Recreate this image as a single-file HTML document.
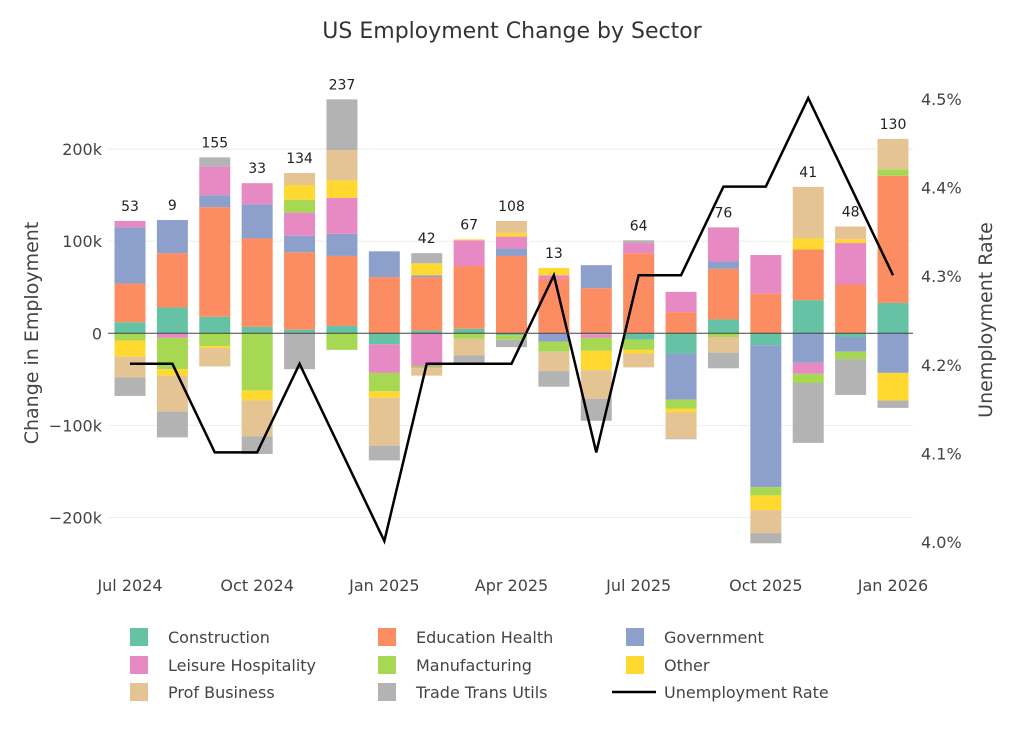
<!DOCTYPE html>
<html><head><meta charset="utf-8">
<style>
html,body{margin:0;padding:0;background:#fff;}
svg{display:block;font-family:"DejaVu Sans","Liberation Sans",sans-serif;}
</style></head>
<body>
<svg id="chart" width="1024" height="732" viewBox="0 0 1024 732">
<text x="512" y="38" text-anchor="middle" font-size="22" fill="#333">US Employment Change by Sector</text>
<g id="grid"></g><g id="bars"></g><g id="labels"></g><g id="line"></g><g id="axes"></g><g id="legend"></g>
</svg>
<script>
const months = ["Jul 2024","Aug 2024","Sep 2024","Oct 2024","Nov 2024","Dec 2024","Jan 2025","Feb 2025","Mar 2025","Apr 2025","May 2025","Jun 2025","Jul 2025","Aug 2025","Sep 2025","Oct 2025","Nov 2025","Dec 2025","Jan 2026"];
const sectorNames = ["Construction","Education Health","Government","Leisure Hospitality","Manufacturing","Other","Prof Business","Trade Trans Utils"];
const construction = [12,28,18,7,4,8,-12,3,5,-2,0,-1,-7,-22,15,-13,36,-4,33];
const educationHealth = [42,59,119,96,84,76,61,58,68,84,59,49,87,23,55,43,55,53,138];
const government = [61,36,13,37,18,24,28,2,0,8,-9,25,0,-50,8,-154,-32,-16,-43];
const leisureHospitality = [7,-5,31,23,25,39,-31,-36,28,13,4,-4,11,22,37,42,-12,45,0];
const manufacturing = [-8,-34,-14,-62,14,-18,-20,-2,-6,-5,-11,-14,-11,-10,-4,-9,-10,-8,7];
const other = [-17,-7,-2,-11,16,19,-7,13,1,4,8,-21,-4,-4,0,-16,12,4,-30];
const profBusiness = [-23,-39,-20,-39,13,33,-52,-8,-18,13,-21,-31,-15,-28,-17,-25,56,14,33];
const tradeTransUtils = [-20,-28,10,-19,-39,55,-16,11,-10,-8,-17,-24,3,-1,-17,-11,-65,-39,-8];
const totalLabels = [53,9,155,33,134,237,null,42,67,108,13,null,64,null,76,null,41,48,130];
const unemployment = [4.2,4.2,4.1,4.1,4.2,4.1,4.0,4.2,4.2,4.2,4.3,4.1,4.3,4.3,4.4,4.4,4.5,4.4,4.3];
const yTicks = [-200,-100,0,100,200];
const yTickLabels = ["\u2212200k","\u2212100k","0","100k","200k"];
const y2Ticks = [4.0,4.1,4.2,4.3,4.4,4.5];
const y2TickLabels = ["4.0%","4.1%","4.2%","4.3%","4.4%","4.5%"];
const xTickIdx = [0,3,6,9,12,15,18];
const xTickLabels = ["Jul 2024","Oct 2024","Jan 2025","Apr 2025","Jul 2025","Oct 2025","Jan 2026"];

const series = [construction,educationHealth,government,leisureHospitality,manufacturing,other,profBusiness,tradeTransUtils];
const colors = ["#66c2a5","#fc8d62","#8da0cb","#e78ac3","#a6d854","#ffd92f","#e5c494","#b3b3b3"];
const NS="http://www.w3.org/2000/svg";
const X0=130, X1=893, PL=108, PR=913;
const xs = i => X0 + (X1-X0)*i/(months.length-1);
const ys = v => 333.3 - v*0.921;
const y2 = r => 541 - (r-4.0)*886;
function mk(tag, attrs, parent){const e=document.createElementNS(NS,tag);for(const k in attrs)e.setAttribute(k,attrs[k]);parent.appendChild(e);return e;}
const G=id=>document.getElementById(id);

yTicks.forEach((t,i)=>{
  if(t!==0){const l=mk('line',{x1:PL,x2:PR,y1:ys(t),y2:ys(t),stroke:'#eee','stroke-width':1},G('grid'));
  
  }
  const tx=mk('text',{x:102,y:ys(t)+6,'text-anchor':'end','font-size':16,fill:'#444'},G('axes'));
  tx.textContent=yTickLabels[i];
  
  
});
y2Ticks.forEach((t,i)=>{
  const tx=mk('text',{x:921,y:y2(t)+7,'font-size':16,fill:'#444'},G('axes'));
  tx.textContent=y2TickLabels[i];
  
  
});
xTickIdx.forEach((m,i)=>{
  const tx=mk('text',{x:xs(m),y:591,'text-anchor':'middle','font-size':16,fill:'#444'},G('axes'));
  tx.textContent=xTickLabels[i];
  
  
});
const yt=mk('text',{x:0,y:0,'text-anchor':'middle','font-size':19,fill:'#444',transform:'translate(38,333) rotate(-90)'},G('axes'));
yt.textContent='Change in Employment';


const yt2=mk('text',{x:0,y:0,'text-anchor':'middle','font-size':19,fill:'#444',transform:'translate(992,320) rotate(-90)'},G('axes'));
yt2.textContent='Unemployment Rate';



const BW=31;
months.forEach((m,i)=>{
  let pos=0, neg=0;
  series.forEach((s,k)=>{
    const v=s[i]; if(!v) return;
    let a,b;
    if(v>0){a=pos;b=pos+v;pos=b;}else{a=neg;b=neg+v;neg=b;}
    const r=mk('rect',{x:xs(i)-BW/2,y:Math.min(ys(a),ys(b)),width:BW,height:Math.abs(ys(a)-ys(b)),fill:colors[k]},G('bars'));
    
    
  });
  if(totalLabels[i]!==null){
    const t=mk('text',{x:xs(i),y:ys(pos)-10,'text-anchor':'middle','font-size':14,fill:'#222'},G('labels'));
    t.textContent=totalLabels[i];
    
    
  }
});
const zl=mk('line',{x1:PL,x2:PR,y1:ys(0),y2:ys(0),stroke:'#444','stroke-width':1},G('axes'));


const pl=mk('polyline',{points:unemployment.map((r,i)=>xs(i)+','+y2(r)).join(' '),fill:'none',stroke:'#000','stroke-width':2.5,'stroke-linejoin':'miter'},G('line'));



const legendCols=[130,378,626], legendRows=[637,665,692];
const legendItems=sectorNames.concat(["Unemployment Rate"]);
legendItems.forEach((n,i)=>{
  const cx=legendCols[i%3], cy=legendRows[Math.floor(i/3)];
  const g=mk('g',{},G('legend'));
  
  
  if(i<8){mk('rect',{x:cx,y:cy-9,width:18,height:18,fill:colors[i]},g);}
  else{mk('line',{x1:cx-14,x2:cx+30,y1:cy,y2:cy,stroke:'#000','stroke-width':2.5},g);}
  const t=mk('text',{x:i<8?cx+38:cx+38,y:cy+6,'font-size':16,fill:'#444'},g);
  t.textContent=n;
});
</script>
</body></html>
